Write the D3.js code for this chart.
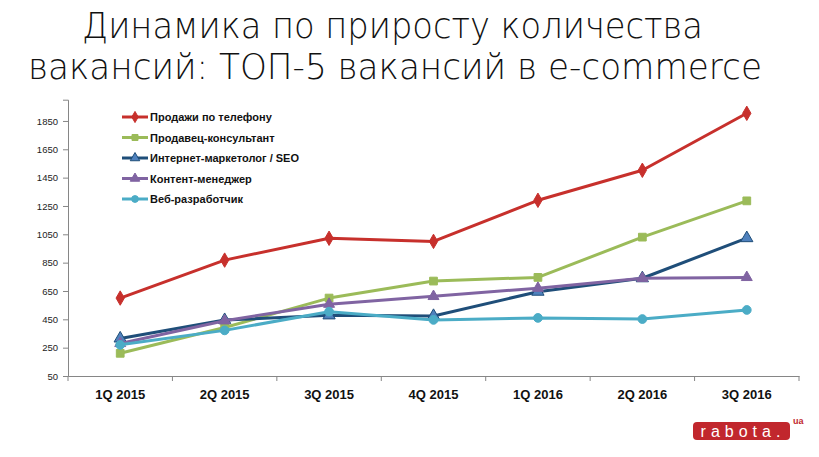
<!DOCTYPE html>
<html><head><meta charset="utf-8">
<script src="https://cdn.jsdelivr.net/npm/d3@7/dist/d3.min.js"></script>
<style>body{margin:0;background:#fff}svg{display:block}</style>
</head><body>
<svg id="c" width="819" height="457"></svg>
<script>
const categories = ["1Q 2015","2Q 2015","3Q 2015","4Q 2015","1Q 2016","2Q 2016","3Q 2016"];
const seriesNames = ["Продажи по телефону","Продавец-консультант","Интернет-маркетолог / SEO","Контент-менеджер","Веб-разработчик"];
const sales = [600, 868, 1022, 1000, 1290, 1502, 1904];
const consultant = [210, 392, 600, 720, 746, 1030, 1286];
const marketer = [315, 445, 478, 474, 645, 740, 1023];
const content = [280, 440, 557, 612, 670, 740, 746];
const webdev = [270, 372, 504, 446, 460, 452, 516];
const yTicks = [50,250,450,650,850,1050,1250,1450,1650,1850];
const titleLines = ["Динамика по приросту количества","вакансий: ТОП-5 вакансий в e-commerce"];

const series = [
  {name: seriesNames[0], values: sales, color: "#C7302C", marker: "diamond"},
  {name: seriesNames[1], values: consultant, color: "#9BBB59", marker: "square"},
  {name: seriesNames[2], values: marketer, color: "#1F4E79", marker: "triangle", fill: "#4F81BD"},
  {name: seriesNames[3], values: content, color: "#8064A2", marker: "triangle"},
  {name: seriesNames[4], values: webdev, color: "#4BACC6", marker: "circle"}
];

const svg = d3.select("#c");
const x = d3.scaleBand().domain(categories).range([68, 799]).padding(0);
const y = d3.scaleLinear().domain([50, 2000]).range([376, 99.7]);

// title
svg.selectAll("text.title").data(titleLines).join("text")
  .attr("class","title")
  .attr("x", (d,i)=> i===0 ? 392.5 : 395)
  .attr("y", (d,i)=> i===0 ? 38 : 79)
  .attr("text-anchor","middle")
  .attr("textLength", (d,i)=> i===0 ? 621 : 734)
  .attr("lengthAdjust","spacingAndGlyphs")
  .style("font-family","'DejaVu Sans', sans-serif")
  .style("font-weight", 200)
  .style("font-size","35px")
  .style("fill","#111")
  .text(d=>d);

// y axis
const yAxis = d3.axisLeft(y).tickValues(yTicks).tickSize(5).tickPadding(5).tickFormat(d3.format("d"));
const gy = svg.append("g").attr("transform","translate(68,0)").call(yAxis);
gy.select(".domain").attr("stroke","#868686");
gy.selectAll(".tick line").attr("stroke","#868686");
gy.selectAll(".tick text").style("font-family","'Liberation Sans', Arial, sans-serif").style("font-size","9.5px").style("fill","#222");

// x axis
const xAxis = d3.axisBottom(x).tickSize(0).tickPadding(14);
const gx = svg.append("g").attr("transform","translate(0,376)").call(xAxis);
gx.select(".domain").attr("stroke","#868686");
gx.selectAll(".tick text").style("font-family","'Liberation Sans', Arial, sans-serif").style("font-size","13px").style("font-weight","bold").style("fill","#111");
const edges = categories.map(c=>x(c)).concat([x.range()[1]]);
gx.selectAll("line.edge").data(edges).join("line").attr("class","edge")
  .attr("x1",d=>d).attr("x2",d=>d).attr("y1",0).attr("y2",5).attr("stroke","#868686");

const cx = c => x(c) + x.bandwidth()/2;
const line = d3.line().x((d,i)=>cx(categories[i])).y(d=>y(d));

function drawMarker(g, type, px, py, s, color, fill){
  const sym = {diamond: d3.symbolDiamond, square: d3.symbolSquare, triangle: d3.symbolTriangle, circle: d3.symbolCircle}[type];
  const size = {diamond: 60, square: 60, triangle: 65, circle: 60}[type] * s;
  g.append("path").attr("d", d3.symbol().type(sym).size(size)())
    .attr("transform", `translate(${px},${py})`)
    .attr("fill", fill || color).attr("stroke", color).attr("stroke-width", 1);
}

series.forEach(s=>{
  svg.append("path").datum(s.values).attr("d", line)
    .attr("fill","none").attr("stroke", s.color).attr("stroke-width", 3).attr("stroke-linejoin","round");
  const g = svg.append("g");
  s.values.forEach((v,i)=> drawMarker(g, s.marker, cx(categories[i]), y(v), s.marker==="triangle" && s.name===seriesNames[3] ? 0.8 : 1, s.color, s.fill));
});

// legend
const lg = svg.append("g");
series.forEach((s,i)=>{
  const ly = 117 + i*20.5;
  lg.append("line").attr("x1",122).attr("x2",148).attr("y1",ly).attr("y2",ly).attr("stroke",s.color).attr("stroke-width",3);
  drawMarker(lg, s.marker, 135, ly, 0.6, s.color, s.fill);
  lg.append("text").attr("x",150).attr("y",ly+4)
    .style("font-family","'Liberation Sans', Arial, sans-serif").style("font-size","11px").style("font-weight","bold").style("fill","#111")
    .text(s.name);
});

// logo
const logo = svg.append("g");
logo.append("rect").attr("x",693).attr("y",422).attr("width",97).attr("height",18).attr("rx",4).attr("fill","#C1272D");
logo.append("text").attr("x",743).attr("y",436.5).attr("text-anchor","middle")
  .style("font-family","'Liberation Sans', Arial, sans-serif").style("font-size","16px").style("letter-spacing","5px").style("fill","#fff")
  .text("rabota.");
logo.append("text").attr("x",793).attr("y",424)
  .style("font-family","'Liberation Sans', Arial, sans-serif").style("font-size","9px").style("font-weight","bold").style("fill","#C1272D")
  .text("ua");
</script>
</body></html>
